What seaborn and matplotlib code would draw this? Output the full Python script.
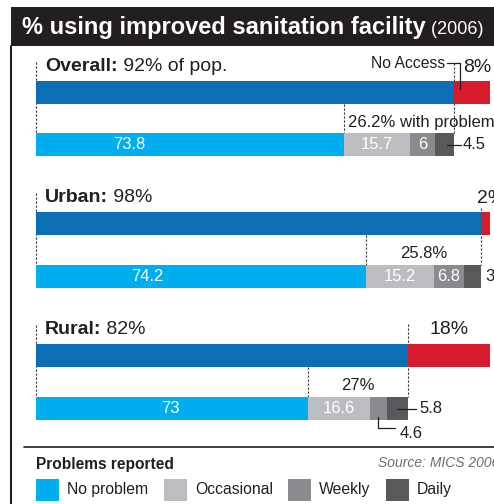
import numpy as np
import pandas as pd
import seaborn as sns
import matplotlib.pyplot as plt
from matplotlib.patches import Rectangle

# === Data (MICS 2006)
groups = ["Overall", "Urban", "Rural"]
header_rest = ["92% of pop.", "98%", "82%"]
access = [92, 98, 82]               # % of population with improved sanitation
no_problem = [73.8, 74.2, 73]       # % of those with access
occasional = [15.7, 15.2, 16.6]
weekly = [6, 6.8, 4.6]
daily = [4.5, 3.8, 5.8]
with_problems = [26.2, 25.8, 27]
segments = ["No problem", "Occasional", "Weekly", "Daily"]

# === Layout (pixel canvas 494x504, bars measured in % of population)
W, H = 494, 504
X0, PX_PER_PCT = 36, 4.54
access_y = [92.5, 223.5, 355.5]
problem_y = [144.5, 276.5, 408.5]
BAR_H = 23
edge_top = [63, 208, 324]
first_label_px = [129, 147, 170]

colors = {"Access": "#0C6FB6", "No access": "#D71A2C", "No problem": "#00AEEF",
          "Occasional": "#BCBDC0", "Weekly": "#8A8B8E", "Daily": "#58595B"}
ink = "#231F20"


def v(px):
    return (px - X0) / PX_PER_PCT


# === Long table: stacked bars drawn as overlapping cumulative bars
rows = []
for i, g in enumerate(groups):
    rows.append((access_y[i], "No access", 100))
    rows.append((access_y[i], "Access", access[i]))
    shares = [no_problem[i], occasional[i], weekly[i], daily[i]]
    cum = np.cumsum(shares) * access[i] / 100
    for name, c in zip(segments, cum):
        rows.append((problem_y[i], name, c))
df = pd.DataFrame(rows, columns=["y", "segment", "pct"])

sns.set_theme(style="white")
plt.rcParams["font.family"] = ["Liberation Sans", "DejaVu Sans"]

fig = plt.figure(figsize=(W / 100, H / 100), dpi=100)
ax = fig.add_axes([0, 0, 1, 1])
sns.barplot(data=df, x="pct", y="y", hue="segment",
            hue_order=["No access", "Access", "Daily", "Weekly", "Occasional", "No problem"],
            palette=colors, saturation=1, orient="h", native_scale=True, dodge=False,
            width=BAR_H / 52, errorbar=None, linewidth=0, legend=False,
            ax=ax, zorder=2)
ax.set_xlim(v(0), v(W))
ax.set_ylim(H, 0)
ax.axis("off")

dash = dict(colors="#333333", linestyles=(0, (2, 1.6)), linewidth=0.8, zorder=1)
for i, g in enumerate(groups):
    ay, py = access_y[i], problem_y[i]
    split = no_problem[i] * access[i] / 100
    bot = py - BAR_H / 2

    # group header
    t = ax.text(v(45), ay - 26, g + ":", weight="bold", fontsize=14,
                va="center", color=ink)
    ax.annotate(" " + header_rest[i], xy=(1, 0), xycoords=t, va="bottom",
                fontsize=14, color=ink)

    # guide lines
    ax.vlines(0, ay - 31, bot, **dash)
    ax.vlines(access[i], edge_top[i], bot, **dash)
    ax.vlines(split, ay + BAR_H / 2, bot, **dash)

    # no access share
    gap = f"{100 - access[i]:g}%"
    if i == 2:
        ax.text((access[i] + 100) / 2, ay - 26, gap, fontsize=14, ha="center",
                va="center", color=ink)
    elif i == 0:
        ax.text(v(463), ay - 25.5, gap, fontsize=14, va="center", color=ink)
    else:
        ax.text(v(477), ay - 25, gap, fontsize=14, va="center", color=ink)

    # share with problems
    if i == 0:
        ax.text(split + 0.9, py - 22.5, f"{with_problems[i]:g}% with problems",
                fontsize=12, va="center", color=ink)
    else:
        ax.text((split + access[i]) / 2, py - 23, f"{with_problems[i]:g}%",
                fontsize=12, ha="center", va="center", color=ink)

    # numbers inside bars
    ax.text(v(first_label_px[i]), py, f"{no_problem[i]:g}", fontsize=12,
            ha="center", va="center", color="white", zorder=3)
    c1 = split
    c2 = (no_problem[i] + occasional[i]) * access[i] / 100
    c3 = (no_problem[i] + occasional[i] + weekly[i]) * access[i] / 100
    ax.text((c1 + c2) / 2, py, f"{occasional[i]:g}", fontsize=12,
            ha="center", va="center", color="white", zorder=3)
    if i < 2:
        ax.text((c2 + c3) / 2, py, f"{weekly[i]:g}", fontsize=12,
                ha="center", va="center", color="white", zorder=3)

lk = dict(color=ink, linewidth=0.9, zorder=4)
# Overall: no access callout and daily leader
ax.text(v(445), 64, "No Access", fontsize=11.3, ha="right", va="center", color=ink)
ax.plot([v(447), access[0] + 1.4, access[0] + 1.4], [63, 63, 89], **lk)
ax.plot([v(447), v(461)], [problem_y[0], problem_y[0]], **lk)
ax.text(v(463), problem_y[0], f"{daily[0]:g}", fontsize=12, va="center", color=ink)
# Urban: daily to the right
ax.text(v(485), problem_y[1], f"{daily[1]:g}", fontsize=12, va="center", color=ink)
# Rural: daily and weekly leaders
ax.plot([v(397), v(416)], [problem_y[2], problem_y[2]], **lk)
ax.text(v(419), problem_y[2], f"{daily[2]:g}", fontsize=12, va="center", color=ink)
ax.plot([v(378), v(378), v(395)], [417, 428, 428], **lk)
ax.text(v(400), 434, f"{weekly[2]:g}", fontsize=12, va="center", color=ink)

# === Frame, title, legend (pixel coordinates)
lay = fig.add_axes([0, 0, 1, 1])
lay.set_xlim(0, W)
lay.set_ylim(H, 0)
lay.axis("off")
lay.patch.set_alpha(0)
lay.add_patch(Rectangle((11, 7), W, 39, facecolor=ink, edgecolor="none"))
tt = lay.text(22, 27.5, "% using improved sanitation facility", color="white",
              weight="bold", fontsize=17, va="center")
lay.annotate(" (2006)", xy=(1, 0.04), xycoords=tt, va="bottom", color="white",
             fontsize=13)
lay.plot([11, 11], [46, H], color=ink, linewidth=1.5)
lay.plot([24, W], [447, 447], color=ink, linewidth=1.2)

lay.text(36, 465, "Problems reported", weight="bold", fontsize=11.2,
         va="center", color=ink)
lay.text(378, 463, "Source: MICS 2006", style="italic", fontsize=10,
         va="center", color="#6D6E71")
for x, name in zip([36, 164, 288, 386], segments):
    lay.add_patch(Rectangle((x, 479), 23, 22, facecolor=colors[name], edgecolor="none"))
    lay.text(x + 31, 489.5, name, fontsize=11.3, va="center", color=ink)

plt.savefig("out.png", dpi=100)
